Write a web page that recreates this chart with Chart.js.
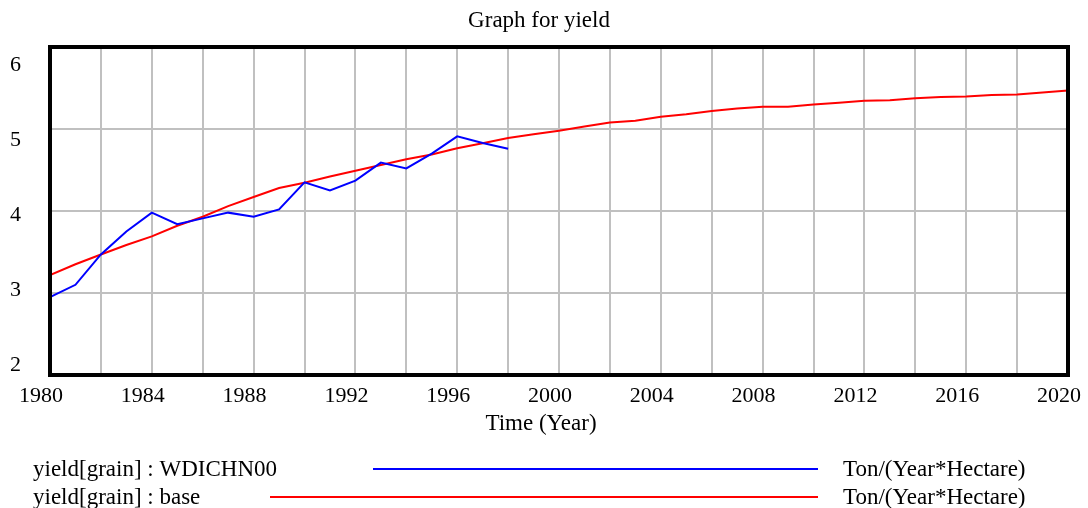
<!DOCTYPE html>
<html>
<head>
<meta charset="utf-8">
<script src="https://cdn.jsdelivr.net/npm/chart.js@4/dist/chart.umd.min.js"></script>
<style>
  html, body { margin: 0; padding: 0; background: #ffffff; }
  #wrap { width: 1088px; height: 508px; }
</style>
</head>
<body>
<div id="wrap"><canvas id="c" width="1088" height="508"></canvas></div>
<script>
// ---- data ----
const years = [1980,1981,1982,1983,1984,1985,1986,1987,1988,1989,1990,1991,1992,1993,1994,1995,1996,1997,1998,1999,
               2000,2001,2002,2003,2004,2005,2006,2007,2008,2009,2010,2011,2012,2013,2014,2015,2016,2017,2018,2019,2020];
const wdichn00 = [2.95,3.10,3.47,3.75,3.98,3.84,3.91,3.98,3.93,4.02,4.35,4.25,4.37,4.59,4.52,4.70,4.91,4.83,4.76];
const base = [3.22,3.35,3.47,3.585,3.69,3.82,3.93,4.06,4.17,4.28,4.345,4.42,4.49,4.56,4.63,4.69,4.765,4.825,4.89,4.935,
              4.98,5.03,5.08,5.10,5.15,5.18,5.22,5.25,5.27,5.27,5.30,5.32,5.345,5.35,5.375,5.39,5.395,5.415,5.42,5.445,5.47];
const yTickLabels = [2,3,4,5,6];
const seriesNames = ['yield[grain] : WDICHN00', 'yield[grain] : base'];
const unitLabel = 'Ton/(Year*Hectare)';
const titleText = 'Graph for yield';
const xTitle = 'Time (Year)';

const FONT = 'Liberation Serif';
const colors = ['#0000ff', '#ff0000'];

const toPoints = (vals) => vals.map((v, i) => ({ x: years[i], y: v }));

const framePlugin = {
  id: 'frame',
  afterDatasetsDraw(chart) {
    const { ctx, chartArea: a } = chart;
    ctx.save();
    ctx.strokeStyle = '#000000';
    ctx.lineWidth = 4;
    ctx.strokeRect(a.left, a.top, a.right - a.left, a.bottom - a.top);
    ctx.restore();
  }
};

const legendPlugin = {
  id: 'vensimLegend',
  afterDraw(chart) {
    const ctx = chart.ctx;
    const rows = [
      { name: seriesNames[0], color: colors[0], y: 469, lineStart: 373 },
      { name: seriesNames[1], color: colors[1], y: 497, lineStart: 270 }
    ];
    ctx.save();
    ctx.font = '23px "' + FONT + '"';
    ctx.textBaseline = 'middle';
    ctx.fillStyle = '#000000';
    // x-axis title, centred on the page as in the reference
    ctx.textAlign = 'center';
    ctx.fillText(xTitle, 541, 424);
    rows.forEach(r => {
      ctx.textAlign = 'left';
      ctx.fillText(r.name, 33, r.y + 1);
      ctx.fillText(unitLabel, 843, r.y + 1);
      ctx.beginPath();
      ctx.strokeStyle = r.color;
      ctx.lineWidth = 2;
      ctx.moveTo(r.lineStart, r.y);
      ctx.lineTo(818, r.y);
      ctx.stroke();
    });
    ctx.restore();
  }
};

new Chart(document.getElementById('c'), {
  type: 'line',
  data: {
    datasets: [
      { label: seriesNames[0], data: toPoints(wdichn00), borderColor: colors[0], borderWidth: 2, pointRadius: 0, tension: 0, fill: false },
      { label: seriesNames[1], data: toPoints(base), borderColor: colors[1], borderWidth: 2, pointRadius: 0, tension: 0, fill: false }
    ]
  },
  options: {
    responsive: false,
    animation: false,
    devicePixelRatio: 1,
    layout: { padding: { left: 10, right: 20, top: 0, bottom: 68 } },
    plugins: {
      legend: { display: false },
      tooltip: { enabled: false },
      title: {
        display: true,
        text: titleText,
        color: '#000000',
        font: { family: FONT, size: 23, weight: 'normal', lineHeight: 1.2 },
        padding: { top: 7, bottom: 12.4 }
      }
    },
    scales: {
      x: {
        type: 'linear',
        min: 1980, max: 2020,
        grid: { color: '#c0c0c0', lineWidth: 2, drawTicks: false },
        border: { display: false },
        ticks: {
          stepSize: 2, autoSkip: false, maxRotation: 0, minRotation: 0,
          padding: 8, labelOffset: -9, color: '#000000',
          font: { family: FONT, size: 22 },
          callback: (v) => ((v - 1980) % 4 === 0 ? String(v) : '')
        },
        title: { display: false },
        afterFit(s) { s.height = 65; s.paddingLeft = 0; s.paddingRight = 0; }
      },
      y: {
        type: 'linear',
        position: 'left',
        min: 2, max: 6,
        grid: { color: '#c0c0c0', lineWidth: 2, drawTicks: false },
        border: { display: false },
        ticks: { display: false, stepSize: 1 },
        afterFit(s) { s.width = 0; s.paddingTop = 0; s.paddingBottom = 0; }
      },
      yl: {
        type: 'linear',
        position: 'left',
        min: 1.8667, max: 6.24,
        grid: { display: false, drawTicks: false },
        border: { display: false },
        ticks: {
          crossAlign: 'far', color: '#000000',
          font: { family: FONT, size: 22 },
          callback: (v) => String(v)
        },
        afterBuildTicks(s) { s.ticks = yTickLabels.map(v => ({ value: v })); },
        afterFit(s) { s.width = 40; s.paddingTop = 0; s.paddingBottom = 0; }
      }
    }
  },
  plugins: [framePlugin, legendPlugin]
});
</script>
</body>
</html>
